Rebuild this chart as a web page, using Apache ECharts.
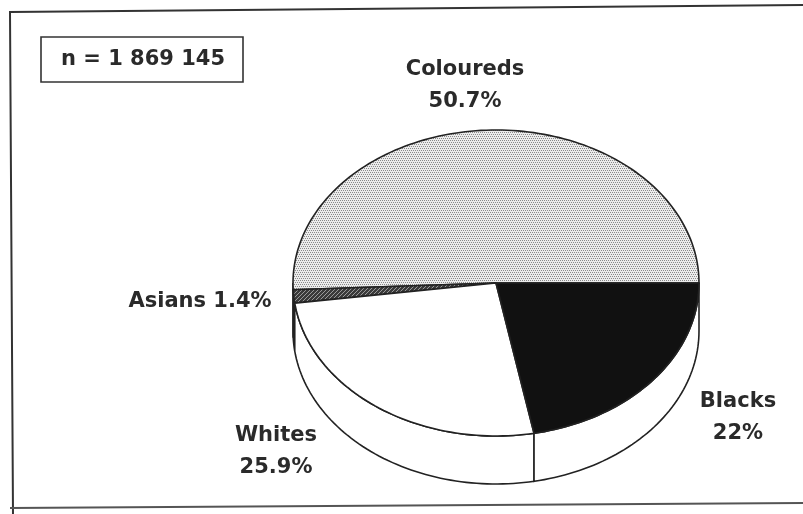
<!DOCTYPE html>
<html>
<head>
<meta charset="utf-8">
<script src="https://cdn.jsdelivr.net/npm/echarts@6/dist/echarts.min.js"></script>
<style>
  html, body { margin: 0; padding: 0; background: #fff; }
  #chart { width: 803px; height: 514px; }
</style>
</head>
<body>
<div id="chart"></div>
<script>
// Population groups and their shares (%)
const groups = ['Coloureds', 'Asians', 'Whites', 'Blacks'];
const shares = [50.7, 1.4, 25.9, 22];
const sampleSize = 1869145;

// Pie geometry (projected ellipse with a visible rim)
const geo = { cx: 496, cy: 283, rx: 203, ry: 153, depth: 48 };
const ink = '#222';

function makePattern(size, draw) {
  const c = document.createElement('canvas');
  c.width = size; c.height = size;
  const g = c.getContext('2d');
  draw(g);
  return { image: c, repeat: 'repeat' };
}
// fine stipple
const stipple = makePattern(4, g => {
  g.fillStyle = '#ececec'; g.fillRect(0, 0, 4, 4);
  g.fillStyle = '#8a8a8a';
  g.fillRect(0, 0, 1, 1); g.fillRect(2, 0, 1, 1);
  g.fillRect(1, 2, 1, 1); g.fillRect(3, 2, 1, 1);
});
// dark hatch
const hatch = makePattern(4, g => {
  g.fillStyle = '#3a3a3a'; g.fillRect(0, 0, 4, 4);
  g.fillStyle = '#9a9a9a';
  g.fillRect(3, 0, 1, 1); g.fillRect(2, 1, 1, 1); g.fillRect(1, 2, 1, 1); g.fillRect(0, 3, 1, 1);
});
const fills = [stipple, hatch, '#ffffff', '#111111'];

const total = shares.reduce((a, b) => a + b, 0);
const starts = [];
shares.reduce((acc, v) => { starts.push(acc); return acc + v; }, 0);

function pt(deg, dy) {
  const r = deg * Math.PI / 180;
  return [geo.cx + geo.rx * Math.cos(r), geo.cy - geo.ry * Math.sin(r) + (dy || 0)];
}
function arc(a1, a2, dy) {
  const pts = [];
  const n = Math.max(2, Math.ceil(Math.abs(a2 - a1) / 1.5));
  for (let i = 0; i <= n; i++) pts.push(pt(a1 + (a2 - a1) * i / n, dy));
  return pts;
}

function renderItem(params, api) {
  const i = params.dataIndex;
  const a1 = starts[i] / total * 360;
  const a2 = a1 + api.value(1) / total * 360;
  const children = [];
  // rim on the front half
  const s = Math.max(a1, 180), e = Math.min(a2, 360);
  if (e > s) {
    const top = arc(s, e, 0);
    const bottom = arc(e, s, geo.depth);
    children.push({
      type: 'polygon',
      shape: { points: top.concat(bottom) },
      style: { fill: '#ffffff', stroke: ink, lineWidth: 1.6 }
    });
  }
  // top face
  children.push({
    type: 'polygon',
    shape: { points: [[geo.cx, geo.cy]].concat(arc(a1, a2, 0)) },
    style: { fill: fills[i], stroke: ink, lineWidth: 1.6 }
  });
  return { type: 'group', children };
}

const labelFont = { fontFamily: 'DejaVu Sans', fontWeight: 'bold', fontSize: 21, fill: '#2a2a2a' };
const pct = v => v + '%';
const labelSpots = [
  { x: 465, y: 86, align: 'center', text: groups[0] + '\n' + pct(shares[0]) },
  { x: 200, y: 302, align: 'center', text: groups[1] + ' ' + pct(shares[1]) },
  { x: 276, y: 452, align: 'center', text: groups[2] + '\n' + pct(shares[2]) },
  { x: 738, y: 418, align: 'center', text: groups[3] + '\n' + pct(shares[3]) }
];
const nText = 'n = ' + sampleSize.toString().replace(/\B(?=(\d{3})+(?!\d))/g, ' ');

const chart = echarts.init(document.getElementById('chart'));
chart.setOption({
  backgroundColor: '#ffffff',
  animation: false,
  series: [{
    type: 'custom',
    coordinateSystem: 'none',
    renderItem,
    data: groups.map((g, i) => ({ name: g, value: [i, shares[i]] }))
  }],
  graphic: [
    // frame
    { type: 'polyline', shape: { points: [[13, 514], [10, 12], [803, 5]] },
      style: { stroke: '#333', lineWidth: 2, fill: null } },
    { type: 'line', shape: { x1: 10, y1: 508, x2: 803, y2: 503 },
      style: { stroke: '#555', lineWidth: 2 } },
    // sample size box
    { type: 'rect', shape: { x: 41, y: 37, width: 202, height: 45 },
      style: { fill: '#fff', stroke: '#333', lineWidth: 1.6 } },
    { type: 'text', x: 143, y: 60,
      style: Object.assign({ text: nText, align: 'center', verticalAlign: 'middle' }, labelFont) }
  ].concat(labelSpots.map(l => ({
    type: 'text', x: l.x, y: l.y,
    style: Object.assign({ text: l.text, align: l.align, verticalAlign: 'middle', lineHeight: 32 }, labelFont)
  })))
});
</script>
</body>
</html>
